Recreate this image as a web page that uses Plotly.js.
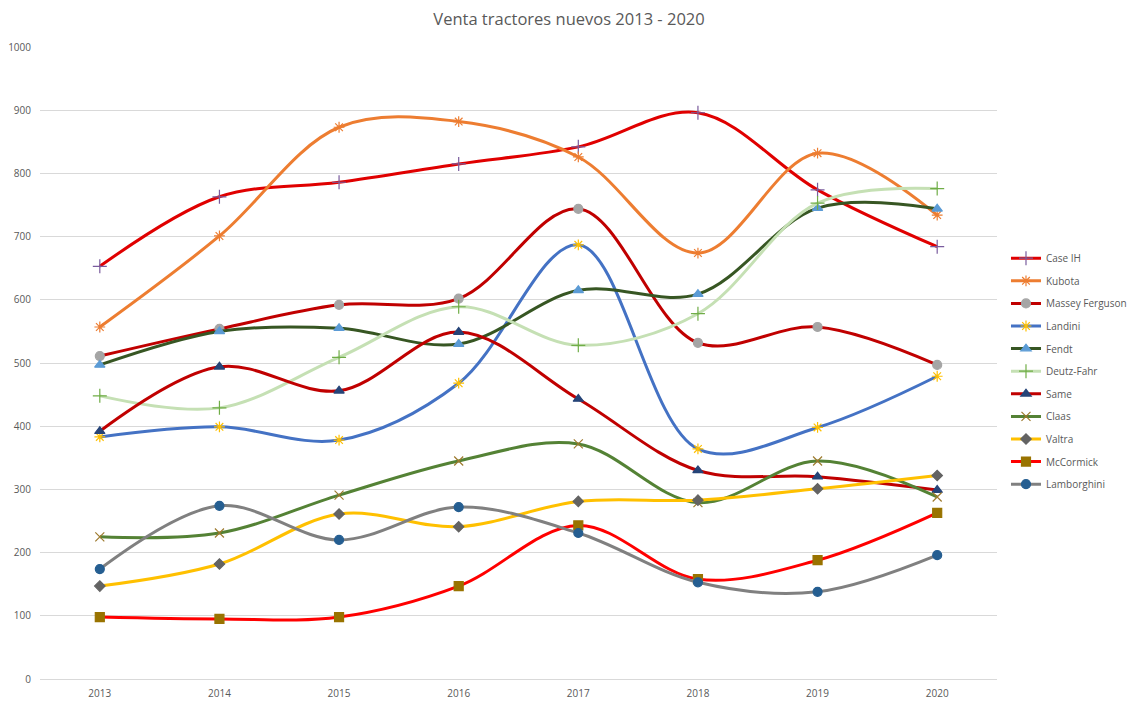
<!DOCTYPE html>
<html>
<head>
<meta charset="utf-8">
<script src="https://cdn.plot.ly/plotly-3.0.1.min.js"></script>
<style>html,body{margin:0;padding:0;background:#fff;}#chart{width:1138px;height:708px;}</style>
</head>
<body>
<div id="chart"></div>
<script>
const years = [2013, 2014, 2015, 2016, 2017, 2018, 2019, 2020];
const caseIH = [653, 763, 786, 815, 842, 896, 774, 684];
const kubota = [557, 701, 873, 882, 826, 674, 832, 734];
const masseyFerguson = [511, 554, 592, 602, 744, 532, 557, 497];
const landini = [383, 399, 378, 468, 687, 364, 398, 479];
const fendt = [497, 550, 555, 530, 615, 609, 745, 744];
const deutzFahr = [448, 429, 509, 589, 528, 578, 753, 776];
const same = [392, 494, 456, 549, 443, 330, 320, 299];
const claas = [225, 231, 291, 345, 372, 279, 345, 288];
const valtra = [147, 182, 261, 241, 281, 283, 301, 322];
const mccormick = [98, 95, 98, 147, 243, 158, 188, 263];
const lamborghini = [174, 274, 220, 272, 231, 153, 138, 196];

const series = [
  {name: 'Case IH', y: caseIH, line: '#e00000', sym: 'cross-thin-open', mc: '#7a5c9e', ms: 10},
  {name: 'Kubota', y: kubota, line: '#ed7d31', sym: 'asterisk-open', mc: '#ed7d31', ms: 9},
  {name: 'Massey Ferguson', y: masseyFerguson, line: '#c00000', sym: 'circle', mc: '#a5a5a5', ms: 9},
  {name: 'Landini', y: landini, line: '#4472c4', sym: 'asterisk-open', mc: '#ffc000', ms: 9},
  {name: 'Fendt', y: fendt, line: '#375623', sym: 'triangle-up', mc: '#5b9bd5', ms: 9},
  {name: 'Deutz-Fahr', y: deutzFahr, line: '#c5e0b4', sym: 'cross-thin-open', mc: '#70ad47', ms: 10},
  {name: 'Same', y: same, line: '#c00000', sym: 'triangle-up', mc: '#264478', ms: 9},
  {name: 'Claas', y: claas, line: '#548235', sym: 'x-thin-open', mc: '#9e7a2e', ms: 9},
  {name: 'Valtra', y: valtra, line: '#ffc000', sym: 'diamond', mc: '#636363', ms: 8},
  {name: 'McCormick', y: mccormick, line: '#ff0000', sym: 'square', mc: '#997300', ms: 9},
  {name: 'Lamborghini', y: lamborghini, line: '#808080', sym: 'circle', mc: '#255e91', ms: 9}
];

const traces = series.map((s, i) => ({
  type: 'scatter',
  mode: 'lines+markers',
  name: s.name,
  legendgroup: 'g' + i,
  x: years,
  y: s.y,
  line: {color: s.line, width: 3, shape: 'spline', smoothing: 1},
  marker: {symbol: s.sym, color: s.mc, size: s.ms, line: {color: s.mc, width: 1.2}}
}));

const layout = {
  width: 1138, height: 708,
  paper_bgcolor: '#ffffff', plot_bgcolor: '#ffffff',
  margin: {l: 40, r: 141, t: 47, b: 29},
  font: {family: 'Open Sans, Liberation Sans, sans-serif', color: '#595959', size: 10},
  title: {text: 'Venta tractores nuevos 2013 - 2020', x: 0.5, xanchor: 'center', y: 0.973, yanchor: 'middle',
          font: {size: 16.5, color: '#595959', family: 'Open Sans, Liberation Sans, sans-serif'}},
  xaxis: {
    range: [2012.5, 2020.5], tickvals: years, ticktext: years.map(String),
    showgrid: false, zeroline: false, showline: true, linecolor: '#d9d9d9', linewidth: 1,
    ticks: '', ticklabelstandoff: 5, tickfont: {size: 10, color: '#595959'}, fixedrange: true
  },
  yaxis: {
    range: [0, 1000], dtick: 100, showgrid: true, gridcolor: '#d9d9d9', gridwidth: 1,
    zeroline: false, showline: false, ticks: '', ticklen: 0, ticklabelstandoff: 8,
    tickfont: {size: 10, color: '#595959'}, fixedrange: true
  },
  legend: {
    xref: 'container', x: 0.884, xanchor: 'left', y: 0.487, yanchor: 'middle',
    font: {size: 10, color: '#595959'}, bgcolor: 'rgba(0,0,0,0)',
    tracegroupgap: 3.6, itemwidth: 30
  },
  showlegend: true
};

Plotly.newPlot('chart', traces, layout, {displayModeBar: false, staticPlot: true});
</script>
</body>
</html>
